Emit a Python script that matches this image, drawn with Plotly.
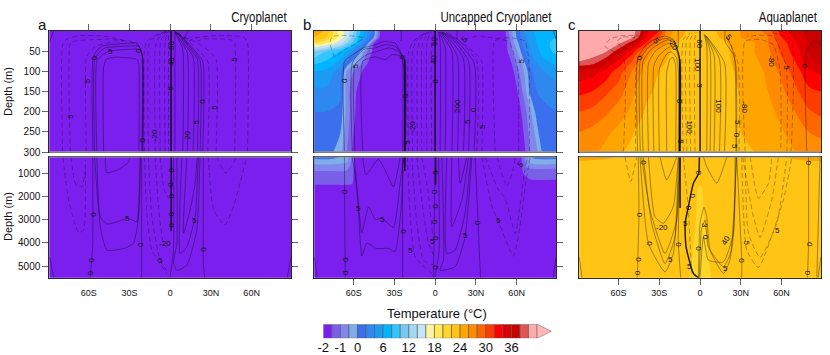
import numpy as np
import plotly.graph_objects as go

# colour levels (deg C) and the colours between them
levels = [-2, -1.5, -1, -0.5, 0, 2, 4, 6, 8, 10, 12, 14, 16, 18, 20, 22, 24, 26, 28, 30, 32, 34, 36, 38, 40, 42]
colors = ['#7b1fee', '#7a5fe8', '#8088ee', '#7faee8', '#3b6fee', '#2f88f0', '#1a9cf5', '#00b4ff', '#33c5ff',
          '#77c9f5', '#a3d8f0', '#c2e4f5', '#fff5a0', '#ffe85a', '#ffd52a', '#ffc414', '#ffa500', '#ff8c00',
          '#ff6600', '#ff3c00', '#ff0000', '#dd0000', '#c80000', '#e05555', '#ffaaaa']
arrow_color = '#ffb6b6'
bar_ticks = [-2, -1, 0, 6, 12, 18, 24, 30, 36]

lat_ticks = [-60, -30, 0, 30, 60]
lat_labels = ['60S', '30S', '0', '30N', '60N']
upper_depth_ticks = [50, 100, 150, 200, 250, 300]
lower_depth_ticks = [1000, 2000, 3000, 4000, 5000]

# temperature, panel a: the whole section sits in the coldest band
a_lats = [-89, 0, 89]
a_upper_depths = [0, 150, 300]
a_lower_depths = [300, 3000, 5500]
a_temp = [[-1.9, -1.9, -1.9], [-1.85, -1.9, -1.85], [-1.9, -1.9, -1.9]]

# temperature, panel b
b_upper_lats = [-89, -80, -70, -65, -60, -55, -50, -45, -40, 0, 50, 55, 60, 65, 70, 75, 80, 89]
b_upper_depths = [0, 15, 30, 50, 100, 150, 200, 300]
b_upper_temp = [
    [27, 23, 17, 15, 12, 8, 4, 1, -1.8, -1.9, -1.9, -0.8, 0.5, 3.5, 5.5, 6.5, 7.5, 7.5],
    [24, 22, 17, 15, 11, 7, 4, 0, -1.8, -1.9, -1.9, -1.0, 0.2, 3.0, 5.0, 6.3, 7.5, 8.0],
    [20, 18, 15, 12, 9, 5, 1, -1.5, -1.8, -1.9, -1.9, -1.2, -0.2, 2.5, 4.5, 6, 7.5, 8.5],
    [12, 10, 8, 6, 3, 0, -1, -1.7, -1.9, -1.9, -1.9, -1.3, -0.6, 1.5, 4, 5.5, 7, 8.5],
    [6, 5.5, 3, -0.5, -1, -1.4, -1.8, -1.9, -1.9, -1.9, -1.9, -1.9, -1.2, -0.6, 1.5, 3, 4, 5],
    [3.5, 3.5, 2.5, -0.8, -1.3, -1.8, -1.9, -1.9, -1.9, -1.9, -1.9, -1.9, -1.6, -0.9, 0.5, 2, 2.5, 3],
    [2, 2, 1.5, -0.7, -1.4, -1.8, -1.9, -1.9, -1.9, -1.9, -1.9, -1.9, -1.9, -1.3, -0.6, 1, 1.5, 2],
    [1.5, 1.2, -0.3, -1.0, -1.6, -1.9, -1.9, -1.9, -1.9, -1.9, -1.9, -1.9, -1.9, -1.7, -1.0, -0.6, 1, 1],
]
b_lower_lats = [-89, -75, -65, -61, -58, 0, 62, 65, 68, 72, 89]
b_lower_depths = [300, 500, 900, 1400, 1600, 5500]
b_lower_temp = [
    [1.0, 0.8, -0.4, -1.2, -1.9, -1.9, -1.9, -1.2, -0.6, 0.4, 1.0],
    [-0.3, -0.3, -0.45, -1.2, -1.9, -1.9, -1.9, -1.2, -0.6, -0.3, -0.3],
    [-1.0, -1.0, -1.05, -1.3, -1.9, -1.9, -1.9, -1.4, -1.2, -1.2, -1.2],
    [-1.4, -1.4, -1.4, -1.45, -1.9, -1.9, -1.9, -1.9, -1.7, -1.6, -1.6],
    [-1.6, -1.6, -1.6, -1.6, -1.9, -1.9, -1.9, -1.9, -1.9, -1.9, -1.9],
    [-1.9, -1.9, -1.9, -1.9, -1.9, -1.9, -1.9, -1.9, -1.9, -1.9, -1.9],
]

# temperature, panel c
c_upper_lats = [-89, -80, -70, -60, -50, -45, -40, -35, -30, -25, -20, -10, 0, 10, 20, 25, 30, 40, 50, 60, 70, 80, 89]
c_upper_depths = [0, 15, 30, 50, 75, 100, 150, 200, 250, 300]
c_upper_temp = [
    [41, 41, 41, 41, 41, 39, 35, 33, 32, 28, 26, 24, 23, 23.5, 26, 26, 26, 27, 29, 33, 35, 37, 37],
    [41, 41, 41, 41, 40.5, 38, 34, 32, 30, 27, 25, 23.5, 23, 23.3, 25, 26, 26, 26.5, 28, 32, 34.5, 36.5, 37],
    [41, 41, 41, 40.5, 37, 35, 32, 29, 27, 26, 24.5, 23, 22.7, 23, 24, 25.5, 26, 26, 28, 31, 33.5, 36, 37],
    [41, 41, 40.5, 37, 33, 30, 28, 26, 25, 24.5, 23.8, 23, 22.7, 23, 23.5, 25, 25.5, 26, 27.5, 30.5, 33, 36, 37],
    [40, 39.5, 37, 33.5, 30, 28, 26, 25, 24.5, 24, 23.5, 23, 22.7, 23, 23.3, 24.5, 25, 25.5, 27, 29.5, 32, 35.5, 36.5],
    [35.5, 35, 33.5, 31, 28, 26.5, 25.3, 24.5, 24, 23.5, 23.3, 23, 22.7, 23, 23.2, 24, 24.7, 25, 26.5, 28.5, 31, 33.5, 34.5],
    [32.5, 32, 30.5, 29, 26.5, 25.3, 24.5, 24, 23.5, 23, 23, 22.8, 22.7, 22.8, 23, 23.5, 24.3, 24.8, 26, 27.5, 29.5, 31.5, 32],
    [30, 29.5, 28.5, 27, 25.5, 24.7, 23.8, 23.5, 23, 23, 22.8, 22.7, 22.7, 22.8, 23, 23.4, 24.1, 24.6, 25.5, 26.5, 28, 29.8, 30.5],
    [28, 27.5, 26.5, 25.5, 24.2, 23.5, 23.2, 23, 22.9, 22.8, 22.8, 22.7, 22.7, 22.8, 22.9, 23.2, 24, 24.3, 25, 25.8, 27, 28, 28.5],
    [27, 26.5, 25.5, 24.3, 23.5, 23, 22.9, 22.9, 22.8, 22.8, 22.7, 22.7, 22.7, 22.7, 22.8, 23, 23.4, 24, 24.5, 25, 26, 26.8, 27],
]
c_lower_lats = [-89, -70, -60, -12, -8, -3, 0, 3, 8, 12, 60, 70, 89]
c_lower_depths = [300, 450, 600, 1500, 1600, 2500, 5500]
c_lower_temp = [
    [24.8, 24.3, 23.9, 23, 23, 22.8, 22.7, 22.8, 23, 23, 23.9, 24.2, 25],
    [24.1, 23.8, 23.5, 23, 23, 23, 22.9, 23, 23, 23, 23.5, 23.9, 24.2],
    [23, 23, 23, 23, 23, 23, 22.9, 23, 23, 23, 23, 23, 23],
    [23, 23, 23, 23, 23, 23, 22.1, 23, 23, 23, 23, 23, 23],
    [23, 23, 23, 23, 23, 22.6, 21.5, 22.6, 23, 23, 23, 23, 23],
    [23, 23, 23, 23, 23, 22.1, 21.5, 22.1, 23, 23, 23, 23, 23],
    [23, 23, 23, 23, 22.0, 21.5, 21.4, 21.5, 22.0, 23, 23, 23, 23],
]

# overturning contours as (lats, depths)
a_upper_solid = [
    ([-56.9, -56.9, -54, -50, -30, -24.5, -21, -21], [300, 70, 48, 37, 30, 30, 55, 300]),
    ([-55.6, -55.6, -52, -48, -28, -23, -20.5, -20.5], [300, 70, 52, 42, 37, 38, 60, 300]),
    ([-54, -54, -50, -45, -25, -22, -20, -20], [300, 75, 60, 50, 45, 48, 65, 300]),
    ([-49, -49, -47, -40, -27, -24, -23, -23], [300, 90, 70, 65, 68, 72, 85, 300]),
    ([24, 24, 18, 10, 5], [300, 75, 48, 18, 4]),
    ([22, 22, 16, 9, 4.5], [300, 72, 45, 16, 4]),
    ([20, 20, 14, 8, 4.2], [300, 70, 42, 14, 3]),
    ([17, 17, 11, 7, 4], [300, 65, 35, 12, 3]),
    ([12.7, 12.7, 8, 5, 3.7], [300, 55, 25, 10, 2]),
    ([9.3, 9.3, 6, 4, 3.5], [300, 45, 20, 8, 1]),
    ([3.5, 3.5], [300, 0]),
    ([-88.8, -87, -86], [28, 10, 0]),
    ([13, 12, 10], [0, 8, 20]),
]
a_upper_dash = [
    ([-79.2, -79.2, -76, -68, -50, -40, -33], [300, 35, 20, 12, 12, 18, 25]),
    ([-73.5, -73.5, -70, -60, -45, -35], [300, 30, 25, 22, 20, 22]),
    ([-61.8, -61.8, -60, -55, -40, -30, -22], [300, 65, 55, 38, 25, 25, 40]),
    ([-18.9, -18.9, -17, -12, -8, -3], [300, 45, 25, 12, 6, 1]),
    ([-16, -16, -14, -10, -6, -2], [300, 40, 22, 12, 6, 1]),
    ([-11, -11, -9, -6, -3], [300, 40, 20, 10, 2]),
    ([-7.4, -7.4, -6, -3, -1.5], [300, 35, 18, 8, 1]),
    ([-3.7, -3.7, -2.5, -1], [300, 25, 10, 1]),
    ([-1.2, -1.2], [300, 0]),
    ([27.7, 27.7, 20, 12, 6], [300, 75, 45, 20, 5]),
    ([33.8, 33.8, 27, 16, 10, 6], [300, 70, 45, 22, 15, 5]),
    ([56.9, 56.9, 54, 47, 30, 18, 14], [300, 28, 15, 12, 12, 18, 25]),
    ([47.5, 47.5, 45, 38, 25, 18], [300, 30, 22, 20, 20, 28]),
]
a_upper_thick = [([0.7, 0.7], [0, 300])]
a_lower_solid = [
    ([-57, -57, -58.8], [300, 4000, 5500]),
    ([-21, -21], [300, 5500]),
    ([24.5, 24.5, 25.5], [300, 5000, 5500]),
    ([-55.6, -51.5, -46.6, -39, -30.6, -24.5, -22.5, -22], [300, 2870, 3190, 3090, 2940, 3090, 1430, 300]),
    ([-54, -51.5, -46.6, -34, -27, -23.3, -22], [300, 3300, 4310, 4240, 4020, 2870, 300]),
    ([-47.8, -46.6, -39, -30.6, -30], [300, 970, 860, 525, 300]),
    ([2.5, 2.5, 0], [300, 4310, 5460]),
    ([4.9, 4.9, 2.5, 4.9, 12.3, 19.6, 22], [300, 4020, 4890, 5180, 4960, 3450, 300]),
    ([8.6, 7.4, 12.3, 18.4, 20.8], [300, 4460, 4170, 2870, 300]),
    ([12.3, 9.8, 14.7, 18.4, 20], [300, 3590, 2580, 1430, 300]),
    ([-88.7, -85.8], [4600, 5500]),
    ([89, 86.3], [4600, 5500]),
]
a_lower_dash = [
    ([-79, -74.8, -67.4, -63.7, -62.5], [300, 2150, 3560, 3450, 420]),
    ([-73, -69.9, -65, -62.5], [300, 1430, 1600, 860]),
    ([-18.9, -17, -13.5, -2.5], [300, 2870, 4310, 5320]),
    ([-16, -13.5, -7.4, -1.2], [300, 2870, 4740, 5320]),
    ([-11, -8.6, -4.9, 0], [300, 2440, 4020, 4310]),
    ([-7.4, -4.4, -1.2], [300, 1720, 2080]),
    ([28, 32, 40.4, 46.6, 56.4], [300, 2580, 3230, 2440, 300]),
    ([34.3, 41, 49], [300, 1000, 300]),
]
a_lower_thick = [([0.8, 0.8], [300, 3500])]

b_upper_solid = [
    ([-66.8, -66.8, -62.6, -52.8, -44, -38, -29.5, -24.6, -24], [300, 75, 63, 42, 34, 26, 30, 59, 300]),
    ([-61, -61, -52.8, -44, -36.9, -29.5, -23.3, -22.9], [300, 79, 46, 42, 34, 38, 67, 300]),
    ([-59, -59, -50.4, -41.8, -34.4, -29.5, -22.9, -22], [300, 83, 59, 50, 42, 46, 67, 300]),
    ([-53.3, -53.3, -44, -36.9, -32, -24.6, -22.5], [300, 75, 64, 71, 59, 63, 300]),
    ([-25, -25], [0, 25]),
    ([28.7, 28.7, 14.7, 4.9], [300, 79, 21, 2]),
    ([24.6, 24.6, 14, 5], [300, 75, 24, 3]),
    ([20.9, 20.9, 12, 4.5], [300, 70, 25, 3]),
    ([16.5, 16.5, 10, 4], [300, 65, 25, 3]),
    ([12.3, 12.3, 7, 3.5], [300, 50, 20, 2]),
    ([7.4, 7.4, 4.5, 3], [300, 40, 15, 2]),
    ([3.7, 3.7, 2.5], [300, 25, 2]),
    ([16, 16], [0, 20]),
    ([87.2, 89], [0, 21]),
]
b_upper_dash = [
    ([-19.7, -19.7, -17, -12, -6], [300, 55, 30, 14, 2]),
    ([-16.7, -16.7, -14, -10, -5], [300, 50, 25, 12, 2]),
    ([-13, -13, -11, -8, -4], [300, 45, 22, 10, 1]),
    ([-9.8, -9.8, -8, -5, -3], [300, 40, 20, 8, 1]),
    ([-6.1, -6.1, -4.5, -2.5], [300, 30, 12, 1]),
    ([-2.5, -2.5, -1], [300, 20, 1]),
    ([30.7, 30.7, 17, 7], [300, 75, 22, 2]),
    ([34.4, 34.4, 31, 18, 8], [300, 75, 60, 25, 3]),
    ([44.2, 43.5, 47, 54, 57, 61, 61.5], [300, 26, 20, 26, 46, 100, 300]),
    ([69.5, 68.8, 66, 56, 44, 32, 22], [300, 67, 25, 17, 18, 12, 21]),
    ([-77, -74.7, -66.3, -52.8, -60, -66.3, -73.7, -77, -77], [21, 13, 11, 17, 34, 46, 64, 38, 21]),
]
b_upper_thick = [([0, 0], [0, 300]), ([-22.3, -22.3], [70, 300])]
b_lower_solid = [
    ([-66.8, -66.3], [300, 5500]),
    ([-24, -24], [300, 5500]),
    ([29.5, 31.4, 33.4], [300, 2870, 5500]),
    ([0, -1.2], [300, 5500]),
    ([-61, -57.7, -54, -49, -44, -39.3, -30.7, -25.8, -23.3], [300, 1580, 3560, 2440, 2990, 2940, 3330, 1430, 300]),
    ([-59.5, -56.5, -54, -50.4, -43, -34.4, -29.5, -25, -23.3], [300, 2580, 4570, 4020, 4240, 4240, 4380, 2440, 300]),
    ([-53.3, -51, -41.8, -36.9, -30.7, -26.5, -25.6], [300, 1070, 400, 860, 1580, 570, 300]),
    ([2.5, 2.9, 0], [300, 4310, 5460]),
    ([4.9, 6.1, 3.7, 14.7, 22, 27], [300, 4740, 5180, 5030, 3740, 300]),
    ([8.6, 8.6, 14.7, 22, 26.3], [300, 4460, 4310, 2730, 300]),
    ([12.3, 12.3, 19.7, 24.6], [300, 3300, 2150, 300]),
    ([17.2, 18.4, 23.3], [300, 1430, 300]),
    ([-89, -87], [4600, 5500]),
    ([89, 87], [4600, 5500]),
]
b_lower_dash = [
    ([-20.4, -18.4, -14.7, -2.5], [300, 2870, 4600, 5320]),
    ([-17.2, -13.5, -8.6, -1.2], [300, 3160, 4740, 4960]),
    ([-13.5, -8.6, -4.9, -0.5], [300, 2730, 4020, 4600]),
    ([-9.8, -5.4, -2], [300, 1720, 3590]),
    ([34.4, 41.8, 46.7, 57.7, 63.9, 66.3, 70], [300, 2440, 3090, 4570, 2730, 1580, 300]),
    ([36.9, 46.7, 51.6, 59, 65, 67.6], [300, 1720, 2080, 3590, 1290, 300]),
    ([45.5, 52.8, 57.7, 59], [300, 1580, 780, 300]),
]
b_lower_thick = [([0.3, 0.3], [300, 1500]), ([-22.3, -22.3], [300, 900])]

c_upper_solid = [
    ([-46, -46, -40, -32, -26, -20, -15.6, -15.6], [300, 70, 35, 18, 13, 20, 60, 300]),
    ([-44, -44, -38, -31, -25, -19, -15, -15], [300, 72, 40, 25, 18, 25, 65, 300]),
    ([-42, -42, -36, -29, -24, -19, -15, -15], [300, 75, 45, 30, 22, 30, 70, 300]),
    ([-38, -38, -33, -27, -22, -18, -14.8, -14.8], [300, 80, 50, 36, 30, 38, 75, 300]),
    ([-34, -34, -30, -25, -21, -17.5, -14.6, -14.6], [300, 85, 60, 45, 38, 48, 85, 300]),
    ([-30, -30, -27, -24, -21, -17.5, -16, -16], [300, 95, 70, 55, 52, 65, 95, 300]),
    ([-24.5, -24.5, -22, -20, -18, -18], [300, 100, 70, 65, 85, 300]),
    ([-16, -16], [0, 40]),
    ([18, 18, 4.9], [300, 79, 13]),
    ([14.3, 14.3, 4.5], [300, 70, 12]),
    ([10.3, 10.3, 4], [300, 60, 11]),
    ([7.4, 7.4, 3.5], [300, 50, 10]),
    ([4.9, 4.9, 3], [300, 35, 8]),
    ([18.4, 18.4, 24.6, 26.5, 27], [0, 26, 59, 88, 300]),
    ([19.5, 23, 25.5, 26.5], [13, 38, 67, 300]),
    ([78.6, 77.4, 79.9, 86, 89], [300, 79, 38, 26, 34]),
]
c_upper_dash = [
    ([-56.5, -56.5, -70, -66.3, -56.5, -44], [300, 67, 38, 20, 11, 12]),
    ([-61.4, -56.5, -48, -55.3, -61.4], [26, 15, 17, 46, 26]),
    ([-47.4, -46.7, -43], [300, 79, 59]),
    ([-12.3, -12.3, -7.4], [300, 21, 5]),
    ([-9.8, -9.8, -6], [300, 20, 5]),
    ([-6.9, -6.9, -4], [300, 18, 4]),
    ([-3.7, -3.7, -2], [300, 15, 3]),
    ([28.7, 28, 19.7], [300, 80, 13]),
    ([33.2, 33.2, 44.2, 54, 59, 59.5], [300, 26, 21, 34, 100, 300]),
    ([63.9, 63.4, 54, 34.4], [300, 88, 13, 13]),
    ([67, 67, 54], [300, 21, 5]),
]
c_upper_thick = [([0, 0], [0, 300]), ([-15, -15], [70, 300])]
c_lower_solid = [
    ([-45.5, -45, -46.2], [300, 2730, 5500]),
    ([79.9, 79.9, 79.1], [300, 4020, 5500]),
    ([-14.7, -16, -14.2], [300, 4020, 5500]),
    ([27, 30.7, 30.7], [300, 4740, 5500]),
    ([-43, -36.9, -25.8, -17.2, -14.7], [300, 2580, 4460, 3020, 300]),
    ([-41.8, -35.6, -25.8, -18.4, -15.2], [300, 3160, 4890, 3740, 300]),
    ([-44.2, -38, -25.8, -19.7, -15.7], [300, 4020, 5250, 4460, 300]),
    ([-38, -33.2, -27, -19.7, -16], [300, 2870, 3160, 2440, 300]),
    ([-29.5, -24.6, -19.7, -17.2], [300, 1290, 710, 300]),
    ([-1.2, 0, 2.9, 4.9, 7.4, 17.2, 22, 27], [5500, 3160, 2470, 2870, 4310, 5320, 4740, 300]),
    ([-0.5, 1, 3.7, 6.1, 17.2, 23.3, 26.5], [5500, 3450, 3020, 4170, 5030, 4310, 300]),
    ([0, 2.5, 6.1, 17.2, 24.6, 25.8], [5500, 3740, 4740, 4820, 3590, 300]),
    ([2.5, 4.9, 12.3, 19.7], [300, 710, 1430, 300]),
    ([-89, -87], [4600, 5500]),
    ([89, 87], [4600, 5500]),
    ([88.4, 86], [300, 5500]),
]
c_lower_dash = [
    ([-12.3, -8.6, -6.1], [300, 2580, 5500]),
    ([31.4, 39.3, 44.2, 52.8, 57.7], [300, 2870, 3760, 2150, 300]),
    ([33.2, 35.6, 44.2, 56.5, 63.9], [300, 3590, 4630, 3160, 300]),
    ([30.7, 34.4, 43, 61.4, 67.6], [300, 4310, 5060, 2150, 300]),
    ([36.9, 43, 50.4, 52.8], [300, 2080, 1430, 300]),
    ([-55.3, -51, -46.7], [300, 1360, 300]),
]
c_lower_thick = [
    ([-0.5, -1, -4.9, -8.6, -11, -10.3, -4.9, -1.2], [300, 1000, 1430, 2440, 3160, 4170, 5320, 5500]),
    ([-14.7, -14.7], [300, 2500]),
]

# contour labels as (lat, depth, text, angle)
a_upper_labels = [(-43.6, 50, '5', 0), (-22.8, 49, '0', -90), (-56.4, 67, '0', -90), (-60.8, 123, '5', -90),
                  (-73.5, 212, '5', -90), (-20.6, 271, '0', -90), (-11.5, 260, '-20', -90), (12.7, 259, '20', -90),
                  (19.6, 225, '5', -90), (23.8, 174, '0', -90), (33, 188, '5', -90), (47.8, 71, '5', -90),
                  (1, 36, '50', -90), (0.5, 75, '40', -90), (0.5, 141, '6', -90)]
a_lower_labels = [(-57, 2760, '0', -90), (-31.4, 2970, '5', 0), (-57.6, 4720, '0', -90), (-58.3, 5280, '0', -90),
                  (-21.3, 4080, '0', -90), (-3.7, 4020, '-20', 0), (-7, 4770, '5', 0), (17.6, 3040, '5', 0),
                  (24.5, 4280, '0', -90), (0.7, 880, '0', -90), (0.7, 1500, '0', -90), (0.7, 2000, '0', -90),
                  (0.7, 2770, '0', -90), (0.7, 3250, '0', -90)]
b_upper_labels = [(21.6, 21, '5', -45), (-24, 64, '5', -90), (-59, 88, '5', -90), (-66.8, 123, '0', -90),
                  (63.4, 75, '5', -90), (0, 27, '50', -90), (-1.2, 71, '40', -90), (0.5, 123, '8', -90),
                  (-21.6, 160, '0', -90), (16.5, 187, '200', -90), (28.3, 195, '0', -90), (24, 224, '5', -90),
                  (34.4, 236, '5', -90), (-16.5, 238, '-20', -90), (-20.4, 276, '5', -90)]
b_lower_labels = [(63, 610, '5', -45), (-66.8, 1790, '0', -90), (-56.5, 2540, '5', 0), (-38.8, 2990, '5', 0),
                  (-23.8, 3490, '0', -90), (-18, 4340, '5', 0), (-66, 4720, '0', -90), (-66, 5280, '0', -90),
                  (31.2, 3120, '0', -90), (46.7, 3040, '5', 0), (22, 3700, '5', 0), (-2, 3950, '5', 0),
                  (0, 970, '0', -90), (0, 1800, '0', -90), (0, 2430, '0', -90), (0, 3100, '0', -90),
                  (0, 3800, '0', -90), (0, 5060, '0', -90)]
c_upper_labels = [(-2, 85, '100', 90), (14, 187, '100', 90), (-7.4, 239, '100', 90), (33, 189, '-80', 90),
                  (53, 75, '-80', 90), (64, 92, '5', 90), (77, 88, '0', 90), (21, 17, '5', 45), (-20, 34, '-20', 60),
                  (-32, 25, '5', 45), (-44, 67, '0', 90), (-14.7, 174, '0', 90), (28, 226, '5', 90),
                  (27.5, 258, '0', 90), (25, 285, '5', 90), (-15, 275, '5', 90), (-1, 32, '60', 90), (-0.7, 135, '3', 90)]
c_lower_labels = [(-41.8, 540, '0', -90), (-45, 2760, '0', -90), (-37.3, 4020, '0', -90), (-16, 4070, '0', -90),
                  (-45.5, 4720, '0', -90), (-46, 5280, '0', -90), (-27.8, 3330, '-20', 0), (-21.4, 4700, '5', 0),
                  (-11, 3160, '5', 0), (-8.4, 2470, '0', -90), (-6, 1940, '0', -90), (-1, 960, '0', -90),
                  (-7.9, 5000, '5', 0), (3.7, 3230, '3', 90), (3.9, 3740, '0', -90), (-1.2, 4240, '0', -90),
                  (18.9, 3880, '40', -60), (18.4, 5100, '5', 0), (34.4, 4020, '5', 90), (30, 4740, '0', -90),
                  (57, 3480, '5', 0), (79.9, 540, '0', -90), (79.9, 4050, '0', -90), (79, 5280, '0', -90)]

panel_letters = ['a', 'b', 'c']
panel_titles = ['Cryoplanet', 'Uncapped Cryoplanet', 'Aquaplanet']
panels = [
    dict(upper=(a_lats, a_upper_depths, a_temp), lower=(a_lats, a_lower_depths, a_temp),
         u_lines=(a_upper_solid, a_upper_dash, a_upper_thick), l_lines=(a_lower_solid, a_lower_dash, a_lower_thick),
         u_labels=a_upper_labels, l_labels=a_lower_labels),
    dict(upper=(b_upper_lats, b_upper_depths, b_upper_temp), lower=(b_lower_lats, b_lower_depths, b_lower_temp),
         u_lines=(b_upper_solid, b_upper_dash, b_upper_thick), l_lines=(b_lower_solid, b_lower_dash, b_lower_thick),
         u_labels=b_upper_labels, l_labels=b_lower_labels),
    dict(upper=(c_upper_lats, c_upper_depths, c_upper_temp), lower=(c_lower_lats, c_lower_depths, c_lower_temp),
         u_lines=(c_upper_solid, c_upper_dash, c_upper_thick), l_lines=(c_lower_solid, c_lower_dash, c_lower_thick),
         u_labels=c_upper_labels, l_labels=c_lower_labels),
]

W, H = 830, 355
SANS = 'Liberation Sans, Arial, sans-serif'
AXIS = '#2a2a2a'
TICK = '#666666'

# pixel boxes of the panels
panel_left = [49.3, 314.3, 579.2]
panel_width = 241.7
upper_box = (31, 152)
lower_box = (157, 277.7)


def xdom(x0, x1):
    return [x0 / W, x1 / W]


def ydom(y0, y1):
    return [1 - y1 / H, 1 - y0 / H]


def xid(n):
    return 'x' if n == 1 else 'x' + str(n)


def yid(n):
    return 'y' if n == 1 else 'y' + str(n)


# step colorscale on the level index, so uneven levels work with contour fill
step_scale = []
for i, c in enumerate(colors):
    step_scale.append([i / len(colors), c])
    step_scale.append([(i + 1) / len(colors), c])


def join_lines(lines):
    xs, ys = [], []
    for lat, depth in lines:
        xs += list(lat) + [None]
        ys += list(depth) + [None]
    return xs, ys


fig = go.Figure()
layout = {}
annotations = []
shapes = []


def draw_section(n, field, lines, labels):
    ax = xid(n)
    ay = yid(n)
    lat, depth, temp = field
    idx = np.interp(np.array(temp, dtype=float), levels, np.arange(len(levels)))
    idx = np.minimum(idx, len(colors) - 0.1)
    fig.add_trace(go.Contour(x=lat, y=depth, z=idx, xaxis=ax, yaxis=ay, colorscale=step_scale,
                             zmin=0, zmax=len(colors), autocontour=False, showscale=False, hoverinfo='skip',
                             contours=dict(start=0, end=len(colors), size=1, coloring='fill', showlines=False),
                             line=dict(width=0)))
    solid, dash, thick = lines
    x, y = join_lines(solid)
    fig.add_trace(go.Scatter(x=x, y=y, xaxis=ax, yaxis=ay, mode='lines', hoverinfo='skip',
                             line=dict(color='rgba(0,0,0,0.6)', width=0.6, shape='spline', smoothing=0.5)))
    x, y = join_lines(dash)
    fig.add_trace(go.Scatter(x=x, y=y, xaxis=ax, yaxis=ay, mode='lines', hoverinfo='skip',
                             line=dict(color='rgba(0,0,0,0.5)', width=0.6, dash='5px,3px', shape='spline', smoothing=0.5)))
    x, y = join_lines(thick)
    fig.add_trace(go.Scatter(x=x, y=y, xaxis=ax, yaxis=ay, mode='lines', hoverinfo='skip',
                             line=dict(color='rgba(0,0,0,0.85)', width=1.5, shape='spline', smoothing=0.5)))
    for la, de, txt, angle in labels:
        annotations.append(dict(x=la, y=de, xref=ax, yref=ay, text=txt, showarrow=False, textangle=angle,
                                font=dict(family=SANS, size=8, color='#111111'), xanchor='center', yanchor='middle'))


for p, panel in enumerate(panels):
    left = panel_left[p]
    right = left + panel_width
    n_up = 2 * p + 1
    n_lo = 2 * p + 2
    draw_section(n_up, panel['upper'], panel['u_lines'], panel['u_labels'])
    draw_section(n_lo, panel['lower'], panel['l_lines'], panel['l_labels'])

    layout['xaxis' + str(n_up)] = dict(domain=xdom(left, right), range=[-89, 89], anchor=yid(n_up), side='top',
                                       tickvals=lat_ticks, ticks='outside', ticklen=6, tickcolor=TICK, tickwidth=1,
                                       showticklabels=False, showgrid=False, zeroline=False, showline=True,
                                       mirror=True, linecolor=AXIS, linewidth=1, automargin=False)
    layout['xaxis' + str(n_lo)] = dict(domain=xdom(left, right), range=[-89, 89], anchor=yid(n_lo),
                                       tickvals=lat_ticks, ticktext=lat_labels, ticks='outside', ticklen=6,
                                       tickcolor='rgba(0,0,0,0)' if p == 0 else TICK, tickwidth=1,
                                       tickfont=dict(family=SANS, size=9, color='#111111'), showgrid=False,
                                       zeroline=False, showline=True, mirror=True, linecolor=AXIS, linewidth=1,
                                       automargin=False)
    for n, box, rng, vals in ((n_up, upper_box, [300, 0], upper_depth_ticks),
                              (n_lo, lower_box, [5500, 300], lower_depth_ticks)):
        yax = dict(domain=ydom(*box), range=rng, anchor=xid(n), tickvals=vals, ticklen=6, tickwidth=1,
                   tickcolor=TICK, tickfont=dict(family=SANS, size=10, color='#111111'), showgrid=False,
                   zeroline=False, showline=True, linecolor=AXIS, linewidth=1, mirror=True, automargin=False)
        if p == 0:
            yax.update(ticks='outside', mirror='allticks')
        elif p == 1:
            yax.update(ticks='outside', side='right', showticklabels=False)
        else:
            yax.update(ticks='', showticklabels=False)
        layout['yaxis' + str(n)] = yax

    # gray edges facing the white gap
    shapes.append(dict(type='line', xref=xid(n_up) + ' domain', yref=yid(n_up) + ' domain',
                       x0=0, x1=1, y0=0, y1=0, line=dict(color='#9a9a9a', width=1.5)))
    shapes.append(dict(type='line', xref=xid(n_lo) + ' domain', yref=yid(n_lo) + ' domain',
                       x0=0, x1=1, y0=1, y1=1, line=dict(color='#9a9a9a', width=1)))

    annotations.append(dict(x=(left - 13) / W, y=1 - 24 / H, xref='paper', yref='paper', text=panel_letters[p],
                            showarrow=False, xanchor='left', yanchor='middle',
                            font=dict(family=SANS, size=15, color='#111111')))
    annotations.append(dict(x=(right - 2) / W, y=1 - 17 / H, xref='paper', yref='paper', text=panel_titles[p],
                            showarrow=False, xanchor='right', yanchor='middle',
                            font=dict(family=SANS, size=14, color='#111111')))

for y_mid in (92, 217):
    annotations.append(dict(x=8 / W, y=1 - y_mid / H, xref='paper', yref='paper', text='Depth (m)', showarrow=False,
                            textangle=-90, xanchor='center', yanchor='middle',
                            font=dict(family=SANS, size=11, color='#111111')))

# label bar drawn as stacked boxes on its own axes
box_px = 8.55
arrow_px = 14.5
bar_left = 323.3
bar_count = len(colors)
fig.add_trace(go.Bar(x=[1] * bar_count, base=list(range(bar_count)), y=[0] * bar_count, orientation='h', width=1,
                     xaxis='x7', yaxis='y7', hoverinfo='skip',
                     marker=dict(color=colors, line=dict(color='#555555', width=0.6))))
bar_end = bar_count + arrow_px / box_px
shapes.append(dict(type='path', xref='x7', yref='y7', path=f'M {bar_count} -0.5 L {bar_end} 0 L {bar_count} 0.5 Z',
                   fillcolor=arrow_color, line=dict(color='#777777', width=0.6)))
bar_positions = [levels.index(v) for v in bar_ticks]
layout['xaxis7'] = dict(domain=xdom(bar_left, bar_left + bar_count * box_px + arrow_px), range=[0, bar_end],
                        anchor='y7', tickvals=bar_positions, ticktext=[str(v) for v in bar_ticks], ticks='',
                        tickfont=dict(family=SANS, size=13, color='#111111'), showgrid=False, zeroline=False,
                        showline=False, automargin=False)
layout['yaxis7'] = dict(domain=ydom(324.3, 338.3), range=[-0.5, 0.5], anchor='x7', visible=False, automargin=False)
annotations.append(dict(x=436.7 / W, y=1 - 313 / H, xref='paper', yref='paper', text='Temperature (°C)', showarrow=False,
                        xanchor='center', yanchor='middle', font=dict(family=SANS, size=13, color='#111111')))

fig.update_layout(width=W, height=H, margin=dict(l=0, r=0, t=0, b=0), paper_bgcolor='white',
                  plot_bgcolor='white', showlegend=False, barmode='overlay',
                  annotations=annotations, shapes=shapes, **layout)

# no narrow face is installed, so squeeze the three panel titles and keep their right ends in place
squeeze_titles = """
document.body.style.margin = '0';
document.body.style.overflow = 'hidden';
var titles = %s;
document.querySelectorAll('.annotation-text').forEach(function (t) {
  if (titles.indexOf(t.textContent) >= 0) {
    var w = t.getComputedTextLength();
    t.setAttribute('x', parseFloat(t.getAttribute('x')) + w * 0.09);
    t.setAttribute('textLength', w * 0.82);
    t.setAttribute('lengthAdjust', 'spacingAndGlyphs');
  }
});
""" % str(panel_titles)
fig.write_html("out.html", config={'displayModeBar': False}, post_script=squeeze_titles)
